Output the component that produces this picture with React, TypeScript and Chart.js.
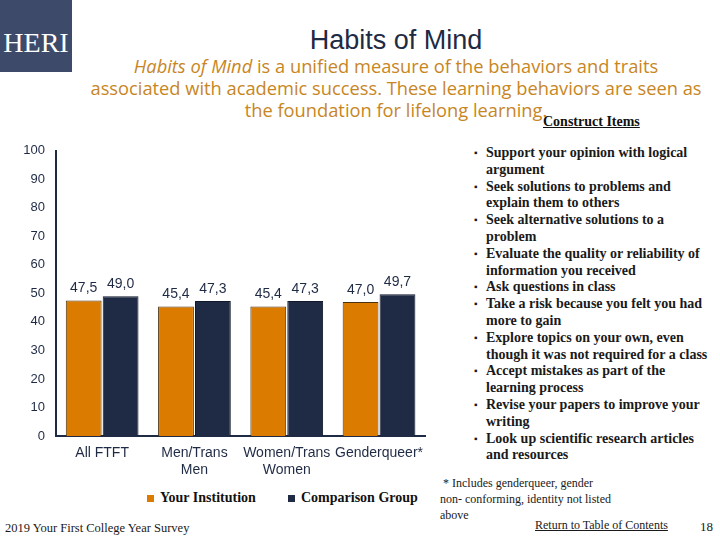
import React, { useEffect, useRef } from "react";
import { Chart, registerables } from "chart.js";

Chart.register(...registerables);

const categories: string[][] = [["All FTFT"], ["Men/Trans", "Men"], ["Women/Trans", "Women"], ["Genderqueer*"]];
const yourInstitution: number[] = [47.5, 45.4, 45.4, 47.0];
const comparisonGroup: number[] = [49.0, 47.3, 47.3, 49.7];
const seriesNames: string[] = ["Your Institution", "Comparison Group"];
const yTicks: number[] = [0, 10, 20, 30, 40, 50, 60, 70, 80, 90, 100];

const constructItems: string[][] = [
  ["Support your opinion with logical", "argument"],
  ["Seek solutions to problems and", "explain them to others"],
  ["Seek alternative solutions to a", "problem"],
  ["Evaluate the quality or reliability of", "information you received"],
  ["Ask questions in class"],
  ["Take a risk because you felt you had", "more to gain"],
  ["Explore topics on your own, even", "though it was not required for a class"],
  ["Accept mistakes as part of the", "learning process"],
  ["Revise your papers to improve your", "writing"],
  ["Look up scientific research articles", "and resources"],
];

const ORANGE = "#DB7B00";
const NAVY = "#1F2A44";
const seriesColors: string[] = [ORANGE, NAVY];

const valueLabels = {
  id: "valueLabels",
  afterDatasetsDraw(chart: any) {
    const ctx = chart.ctx;
    ctx.save();
    ctx.font = "14px 'Liberation Sans', Arial, sans-serif";
    ctx.fillStyle = NAVY;
    ctx.textAlign = "center";
    ctx.textBaseline = "bottom";
    chart.data.datasets.forEach((ds: any, i: number) => {
      const meta = chart.getDatasetMeta(i);
      meta.data.forEach((bar: any, j: number) => {
        const v = ds.data[j] as number;
        ctx.fillText(v.toFixed(1).replace(".", ","), bar.x, bar.y - 5);
      });
    });
    ctx.restore();
  },
};

function BarChart() {
  const ref = useRef<HTMLCanvasElement | null>(null);
  useEffect(() => {
    if (!ref.current) return;
    const chart = new Chart(ref.current, {
      type: "bar",
      data: {
        labels: categories,
        datasets: [
          {
            label: seriesNames[0],
            data: yourInstitution,
            backgroundColor: seriesColors[0],
            borderColor: "#4a3210",
            borderWidth: 1,
            categoryPercentage: 0.8,
            barPercentage: 0.97,
          },
          {
            label: seriesNames[1],
            data: comparisonGroup,
            backgroundColor: seriesColors[1],
            borderColor: "#10182a",
            borderWidth: 1,
            categoryPercentage: 0.8,
            barPercentage: 0.97,
          },
        ],
      },
      options: {
        responsive: false,
        animation: false,
        layout: { padding: { top: 5, left: 0, right: 0, bottom: 0 } },
        plugins: {
          tooltip: { enabled: false },
          legend: { display: false },
        },
        scales: {
          x: {
            grid: { display: false, drawTicks: false },
            border: { display: true, color: NAVY, width: 2 },
            ticks: {
              color: NAVY,
              padding: 9,
              font: { family: "'Liberation Sans', Arial, sans-serif", size: 14 },
              maxRotation: 0,
              autoSkip: false,
            },
            afterFit: (s: any) => {
              s.height = 45;
            },
          },
          y: {
            min: 0,
            max: 100,
            grid: { display: false, drawTicks: false },
            border: { display: true, color: NAVY, width: 2 },
            afterBuildTicks: (s: any) => {
              s.ticks = yTicks.map((v) => ({ value: v }));
            },
            ticks: {
              color: NAVY,
              padding: 11,
              font: { family: "'Liberation Sans', Arial, sans-serif", size: 13 },
            },
            afterFit: (s: any) => {
              s.width = 56;
            },
          },
        },
      },
      plugins: [valueLabels],
    });
    return () => chart.destroy();
  }, []);
  return <canvas ref={ref} width={432} height={349} style={{ position: "absolute", left: 0, top: 132 }} />;
}

export default function App() {
  const serif = "'Liberation Serif', 'Times New Roman', serif";
  const legendX = [147, 288];
  return (
    <div style={{ position: "absolute", left: 0, top: 0, width: 720, height: 540, background: "#fff", overflow: "hidden", fontFamily: serif }}>
      <div style={{ position: "absolute", left: 0, top: 0, width: 72, height: 72, background: "#3E4A6A" }} />
      <div style={{ position: "absolute", left: 0, top: 27, width: 72, textAlign: "center", color: "#fff", fontFamily: serif, fontSize: 28, lineHeight: "32px" }}>HERI</div>
      <div style={{ position: "absolute", left: 72, top: 23, width: 648, textAlign: "center", color: NAVY, fontFamily: "'Liberation Sans', Arial, sans-serif", fontSize: 27, lineHeight: "34px" }}>Habits of Mind</div>
      <div style={{ position: "absolute", left: 72, top: 55, width: 648, textAlign: "center", color: "#C7861F", fontFamily: "'Open Sans', sans-serif", fontSize: 18.3, lineHeight: "22px" }}>
        <span style={{ fontStyle: "italic" }}>Habits of Mind</span> is a unified measure of the behaviors and traits<br />
        associated with academic success. These learning behaviors are seen as<br />
        the foundation for lifelong learning.
      </div>
      <div style={{ position: "absolute", left: 543, top: 114, color: "#111", fontFamily: serif, fontWeight: "bold", fontSize: 14, textDecoration: "underline" }}>Construct Items</div>
      <BarChart />
      {seriesNames.map((name, i) => (
        <div key={name} style={{ position: "absolute", left: legendX[i], top: 489, height: 18, display: "flex", alignItems: "center", whiteSpace: "nowrap", color: "#111", fontFamily: serif, fontSize: 14, fontWeight: "bold" }}>
          <span style={{ display: "inline-block", width: 7, height: 7, background: seriesColors[i], marginRight: 6 }} />
          {name}
        </div>
      ))}
      <div style={{ position: "absolute", left: 466, top: 145, color: "#1a1a1a", fontFamily: serif, fontSize: 14, fontWeight: "bold", lineHeight: "16.8px", whiteSpace: "nowrap" }}>
        {constructItems.map((lines, i) => (
          <div key={i} style={{ position: "relative", paddingLeft: 20 }}>
            <span style={{ position: "absolute", left: 8, top: 0, fontSize: 10 }}>▪</span>
            {lines.map((l, k) => (
              <div key={k}>{l}</div>
            ))}
          </div>
        ))}
      </div>
      <div style={{ position: "absolute", left: 440, top: 475, color: "#1a1a1a", fontFamily: serif, fontSize: 12, lineHeight: "16px" }}>
        &nbsp;* Includes genderqueer, gender<br />non- conforming, identity not listed<br />above
      </div>
      <div style={{ position: "absolute", left: 5, top: 521, color: "#1a1a1a", fontFamily: serif, fontSize: 12.5 }}>2019 Your First College Year Survey</div>
      <div style={{ position: "absolute", left: 535, top: 518, color: "#1a1a1a", fontFamily: serif, fontSize: 12, textDecoration: "underline" }}>Return to Table of Contents</div>
      <div style={{ position: "absolute", left: 700, top: 519, color: "#1a1a1a", fontFamily: serif, fontSize: 13 }}>18</div>
    </div>
  );
}
